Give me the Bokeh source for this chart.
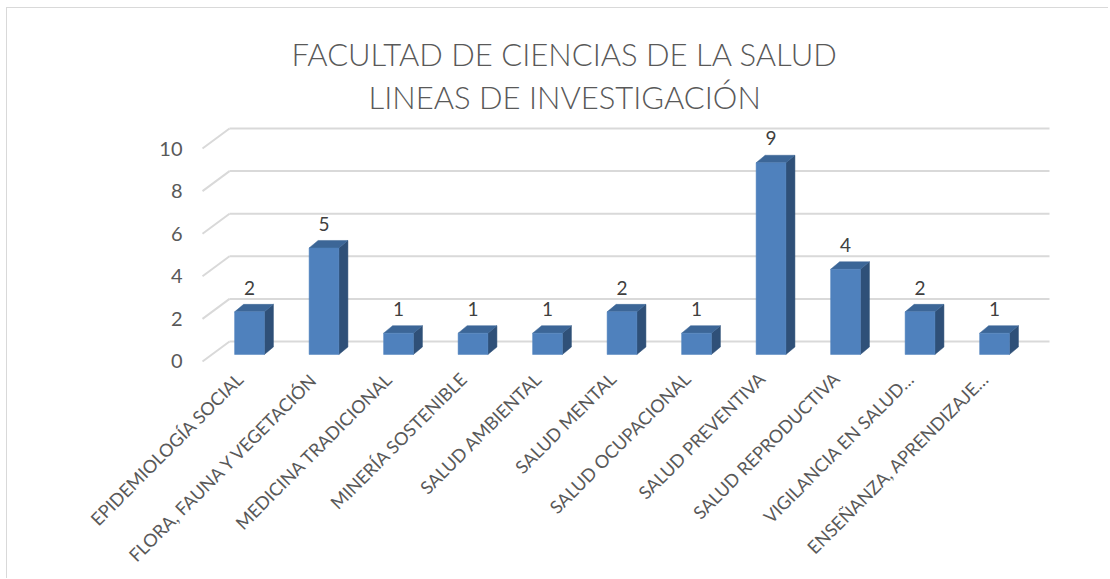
import numpy as np
from math import pi
from bokeh.plotting import figure
from bokeh.models import FixedTicker, Range1d, Label, ColumnDataSource
from bokeh.core.properties import value
from bokeh.embed import file_html
from bokeh.resources import INLINE

# ---- data ----
categories = [
    "EPIDEMIOLOGÍA SOCIAL",
    "FLORA, FAUNA Y VEGETACIÓN",
    "MEDICINA TRADICIONAL",
    "MINERÍA SOSTENIBLE",
    "SALUD AMBIENTAL",
    "SALUD MENTAL",
    "SALUD OCUPACIONAL",
    "SALUD PREVENTIVA",
    "SALUD REPRODUCTIVA",
    "VIGILANCIA EN SALUD…",
    "ENSEÑANZA, APRENDIZAJE…",
]
values = [2, 5, 1, 1, 1, 2, 1, 9, 4, 2, 1]
y_ticks = [0, 2, 4, 6, 8, 10]
title_lines = ["FACULTAD DE CIENCIAS DE LA SALUD", "LINEAS DE INVESTIGACIÓN"]

# ---- style / geometry ----
FONT = "Lato"
TXT = "#595959"
GRID = "#d9d9d9"
FRONT = "#4f81bd"
SIDE = "#2f5078"
TOP = "#3c6697"

HALF_W = 0.2          # half width of front face (x units)
BAR_Z0 = 0.33         # front face lifted by depth (y units)
BAR_DX, BAR_DY = 0.121, 0.352   # bar depth offset
WALL_DX, WALL_DY = 0.363, 0.939  # back wall depth offset
WALL_X0 = -0.631
WALL_X1 = 10.738
LABEL_SHIFT = WALL_DX * BAR_Z0 / WALL_DY  # category anchor on floor front edge

p = figure(width=1102, height=571, output_backend="svg", toolbar_location=None,
           title=None,
           x_range=Range1d(-0.8054, 11.409), y_range=Range1d(-0.047, 16.573),
           min_border_left=182, min_border_right=10, min_border_top=0,
           min_border_bottom=217)
p.outline_line_color = None
p.grid.visible = False
p.background_fill_color = "white"
p.border_fill_color = "white"
p.styles = {"margin-left": "6px", "margin-top": "7px",
            "border-left": "1px solid #d9d9d9", "border-top": "1px solid #d9d9d9"}

# gridlines: back wall + left wall diagonals
yt = np.array(y_ticks, dtype=float)
p.segment(x0=[WALL_X0 + WALL_DX] * len(yt), y0=yt + WALL_DY,
          x1=[WALL_X1] * len(yt), y1=yt + WALL_DY, line_color=GRID, line_width=2)
p.segment(x0=[WALL_X0] * len(yt), y0=yt,
          x1=[WALL_X0 + WALL_DX] * len(yt), y1=yt + WALL_DY, line_color=GRID, line_width=2)

# bars
xs = np.arange(len(values), dtype=float)
v = np.array(values, dtype=float)
B = np.full_like(v, BAR_Z0)
T = v + BAR_Z0

side_x = [[x + HALF_W, x + HALF_W, x + HALF_W + BAR_DX, x + HALF_W + BAR_DX] for x in xs]
side_y = [[b, t, t + BAR_DY, b + BAR_DY] for b, t in zip(B, T)]
top_x = [[x - HALF_W, x + HALF_W, x + HALF_W + BAR_DX, x - HALF_W + BAR_DX] for x in xs]
top_y = [[t, t, t + BAR_DY, t + BAR_DY] for t in T]

p.patches(side_x, side_y, fill_color=SIDE, line_color=SIDE, line_width=0.5)
p.patches(top_x, top_y, fill_color=TOP, line_color=TOP, line_width=0.5)
p.quad(left=xs - HALF_W, right=xs + HALF_W, bottom=B, top=T,
       fill_color=FRONT, line_color=FRONT, line_width=0.5)

# value labels
src = ColumnDataSource(dict(x=xs, y=v + 1.47, t=[str(n) for n in values]))
p.text(x="x", y="y", text="t", source=src, text_align="center",
       text_baseline="middle", text_font=value(FONT), text_font_size="19px",
       text_color="#404040")

# title
for line, ty in zip(title_lines, [14.46, 12.42]):
    p.add_layout(Label(x=4.23, y=ty, text=line, text_align="center",
                       text_baseline="middle", text_font="Lato Light",
                       text_font_size="31px", text_color=TXT))

# axes
p.yaxis.ticker = FixedTicker(ticks=y_ticks)
p.yaxis.axis_line_color = None
p.yaxis.major_tick_line_color = None
p.yaxis.minor_tick_line_color = None
p.yaxis.major_tick_out = 0
p.yaxis.major_tick_in = 0
p.yaxis.major_label_standoff = 7
p.yaxis.major_label_text_font = FONT
p.yaxis.major_label_text_font_size = "20px"
p.yaxis.major_label_text_color = TXT

cat_ticks = [float(x - LABEL_SHIFT) for x in xs]
p.xaxis.ticker = FixedTicker(ticks=cat_ticks)
p.xaxis.major_label_overrides = {t: c for t, c in zip(cat_ticks, categories)}
p.xaxis.major_label_orientation = pi / 4
p.xaxis.axis_line_color = None
p.xaxis.major_tick_line_color = None
p.xaxis.minor_tick_line_color = None
p.xaxis.major_tick_out = 0
p.xaxis.major_tick_in = 0
p.xaxis.major_label_standoff = 13
p.xaxis.major_label_text_font = FONT
p.xaxis.major_label_text_font_size = "18px"
p.xaxis.major_label_text_color = TXT

open("out.html", "w").write(file_html(p, INLINE))
